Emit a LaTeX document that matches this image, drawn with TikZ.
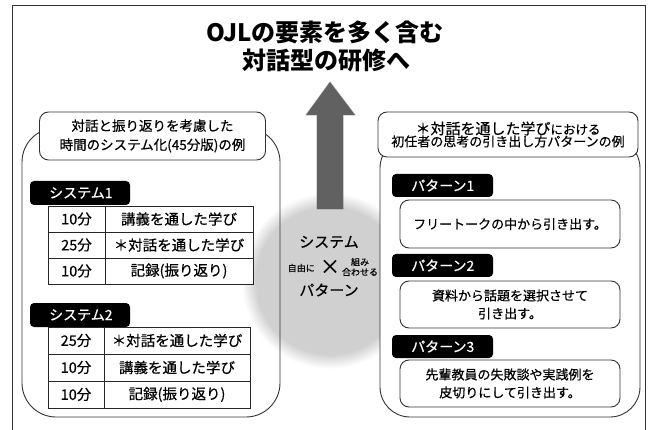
\documentclass[tikz,border=0pt]{standalone}
\usepackage{fontspec}
\setmainfont{Noto Sans CJK JP}[FakeBold=0.5]
\newfontfamily\titlefont{Noto Sans CJK JP}
\begin{document}
\begin{tikzpicture}[x=1pt,y=-1pt,
  outline/.style={line width=0.9pt, draw=black!80},
  ttl/.style={font=\titlefont\fontsize{24}{30}\selectfont\bfseries, inner sep=0pt},
  cell/.style={draw=black!85, line width=0.8pt, fill=white},
  celltxt/.style={font=\fontsize{14.5}{17}\selectfont, inner sep=0pt},
  tag/.style={fill=black, rounded corners=4pt},
  tagtxt/.style={text=white, font=\fontsize{14}{16}\selectfont, anchor=west, inner sep=0pt},
  headbox/.style={outline, fill=white, rounded corners=9pt, align=center, inner sep=0pt},
  patbox/.style={outline, fill=white, rounded corners=9pt, align=center, inner sep=0pt,
    minimum width=220pt, font=\fontsize{13}{18}\selectfont},
  ctr/.style={font=\fontsize{15}{18}\selectfont, inner sep=0pt},
  small/.style={font=\fontsize{9}{10}\selectfont, inner sep=0pt, align=center}
]
\useasboundingbox (0,0) rectangle (653,430);
% outer frame (open at bottom)
\draw[outline] (12,430) -- (12,5) -- (645,5) -- (645,430);
% title
\node[ttl] (t1) at (325,32) {OJLの要素を多く含む};
\node[ttl] (t2) at (326,60) {対話型の研修へ};
% grey disc with soft edge
\foreach \i in {0,...,14} {
  \pgfmathsetmacro{\rad}{88-\i}
  \pgfmathsetmacro{\shadeval}{19*(\i+0.5)/15}
  \fill[black!\shadeval] (330,281) circle (\rad pt);
}
% arrow
\fill[black!62] (317,209) -- (317,115) -- (306,115) -- (330,82) -- (355,115) -- (343,115) -- (343,209) -- cycle;
\draw[black!62, line width=1.2pt, opacity=0.35, line join=round] (317,209) -- (317,115) -- (306,115) -- (330,82) -- (355,115) -- (343,115) -- (343,209) -- cycle;
% centre text
\node[ctr] (sys) at (329,242) {システム};
\node[font=\fontsize{20}{20}\selectfont, inner sep=0pt] (times) at (330,267) {×};
\node[small, anchor=east] (jiyu) at (315,268) {自由に};
\node[small] (kumi) at (360,267) {組み\\合わせる};
\node[ctr] (pat) at (329,290) {パターン};

% ---------------- left panel ----------------
\draw[outline, rounded corners=34pt] (22,128) rectangle (280,417);
\node[headbox, minimum width=226pt, minimum height=48pt, font=\fontsize{13.5}{19}\selectfont] (lhead) at (152.5,136) {対話と振り返りを考慮した\\時間のシステム化(45分版)の例};

% system 1
\fill[tag] (30,181) rectangle (130,205);
\node[tagtxt] (s1) at (49,193) {システム1};
\draw[cell] (48,206) rectangle (105,232);
\draw[cell] (105,206) rectangle (253,232);
\draw[cell] (48,232) rectangle (105,258);
\draw[cell] (105,232) rectangle (253,258);
\draw[cell] (48,258) rectangle (105,284);
\draw[cell] (105,258) rectangle (253,284);
\node[celltxt] (a1) at (76.5,219) {10分};
\node[celltxt] (b1) at (179,219) {講義を通した学び};
\node[celltxt] (a2) at (76.5,245) {25分};
\node[celltxt] (b2) at (179,245) {＊対話を通した学び};
\node[celltxt] (a3) at (76.5,271) {10分};
\node[celltxt] (b3) at (179,271) {記録(振り返り)};

% system 2
\fill[tag] (30,303) rectangle (130,327);
\node[tagtxt] (s2) at (49,315) {システム2};
\draw[cell] (48,327) rectangle (104,354);
\draw[cell] (104,327) rectangle (250,354);
\draw[cell] (48,354) rectangle (104,381);
\draw[cell] (104,354) rectangle (250,381);
\draw[cell] (48,381) rectangle (104,408);
\draw[cell] (104,381) rectangle (250,408);
\node[celltxt] (c1) at (76,340.5) {25分};
\node[celltxt] (d1) at (177,340.5) {＊対話を通した学び};
\node[celltxt] (c2) at (76,367.5) {10分};
\node[celltxt] (d2) at (177,367.5) {講義を通した学び};
\node[celltxt] (c3) at (76,394.5) {10分};
\node[celltxt] (d3) at (177,394.5) {記録(振り返り)};

% ---------------- right panel ----------------
\draw[outline, fill=white, rounded corners=30pt] (380,138) rectangle (640,417);
\node[headbox, minimum width=260pt, minimum height=45pt] (rhead) at (508,134.5)
  {{\fontsize{15}{18}\selectfont ＊対話を通した学び}{\fontsize{12.5}{18}\selectfont における}\\[-1pt]{\fontsize{13}{17}\selectfont 初任者の思考の引き出し方パターンの例}};

\fill[tag] (392,174) rectangle (493,197);
\node[tagtxt] (p1) at (411,185.5) {パターン1};
\node[patbox, minimum height=48pt] (b1r) at (510,224) {フリートークの中から引き出す。};

\fill[tag] (392,254) rectangle (493,277);
\node[tagtxt] (p2) at (411,265.5) {パターン2};
\node[patbox, minimum height=47pt] (b2r) at (510,304.5) {資料から話題を選択させて\\引き出す。};

\fill[tag] (392,335) rectangle (493,358);
\node[tagtxt] (p3) at (411,346.5) {パターン3};
\node[patbox, minimum height=47pt] (b3r) at (510,383.5) {先輩教員の失敗談や実践例を\\皮切りにして引き出す。};
\end{tikzpicture}
\end{document}
